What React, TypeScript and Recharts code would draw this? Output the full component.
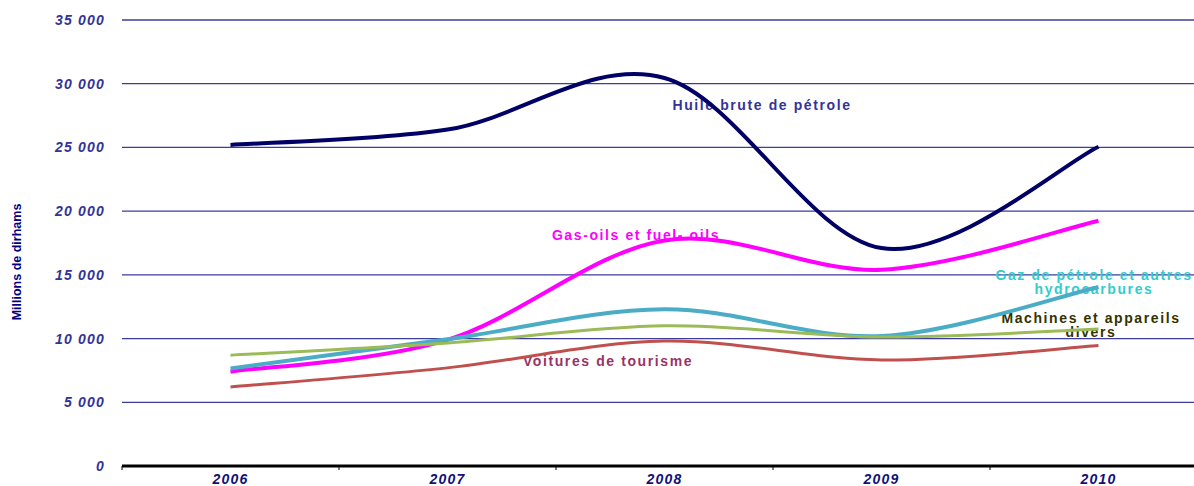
import React from "react";
import { LineChart, Line, XAxis, YAxis, CartesianGrid, Customized } from "recharts";

const years = ["2006", "2007", "2008", "2009", "2010"];
const huileBrute = [25200, 26400, 30450, 17100, 25050];
const gasOils = [7400, 9900, 17700, 15400, 19250];
const gazPetrole = [7650, 9950, 12300, 10200, 14050];
const machines = [8700, 9650, 11000, 10120, 10750];
const voitures = [6200, 7700, 9800, 8320, 9450];
const yTicks = [0, 5000, 10000, 15000, 20000, 25000, 30000, 35000];

const data = years.map((year, i) => ({
  x: i + 0.5,
  year,
  huile: huileBrute[i],
  gasoil: gasOils[i],
  gaz: gazPetrole[i],
  machines: machines[i],
  voitures: voitures[i],
}));

const CHART_W = 1210;
const CHART_H = 486;
const Y_AXIS_W = 122;
const MARGIN = { top: 20, right: 3, bottom: 0, left: 0 };
const BAND = (CHART_W - Y_AXIS_W - MARGIN.left - MARGIN.right) / years.length;

const FONT = "'Liberation Sans', Arial, sans-serif";

// Excel-like smoothed line (Catmull-Rom through the points)
const smooth = (context: any) => {
  let pts: number[][] = [];
  return {
    areaStart() {},
    areaEnd() {},
    lineStart() {
      pts = [];
    },
    point(x: number, y: number) {
      pts.push([+x, +y]);
    },
    lineEnd() {
      if (!pts.length) return;
      context.moveTo(pts[0][0], pts[0][1]);
      for (let i = 0; i < pts.length - 1; i++) {
        const p0 = pts[i - 1] || pts[i];
        const p1 = pts[i];
        const p2 = pts[i + 1];
        const p3 = pts[i + 2] || p2;
        context.bezierCurveTo(
          p1[0] + (p2[0] - p0[0]) / 6,
          p1[1] + (p2[1] - p0[1]) / 6,
          p2[0] - (p3[0] - p1[0]) / 6,
          p2[1] - (p3[1] - p1[1]) / 6,
          p2[0],
          p2[1]
        );
      }
    },
  };
};

const fmt = (v: number) => String(v).replace(/\B(?=(\d{3})+(?!\d))/g, " ");

const YearTick = ({ x, y, payload }: any) => {
  const idx = payload.value;
  if (idx >= years.length) return null;
  return (
    <text x={x + BAND / 2} y={y + 12} textAnchor="middle" fill="#10107a" fontFamily={FONT}
      fontSize={14} fontWeight="bold" fontStyle="italic" letterSpacing={1.2}>
      {years[idx]}
    </text>
  );
};

const labelStyle = { fontFamily: FONT, fontSize: 14, fontWeight: "bold" as const, letterSpacing: 1.6 };

const Annotations = () => (
  <g>
    <text x={18} y={262} transform="rotate(-90 18 262)" textAnchor="middle" dominantBaseline="middle"
      fill="#000080" fontFamily="'Liberation Sans Narrow', 'Arial Narrow', sans-serif" fontSize={12.5} fontWeight="bold">
      Millions de dirhams
    </text>
    <text x={762} y={110} textAnchor="middle" fill="#333399" {...labelStyle}>Huile brute de pétrole</text>
    <text x={636} y={240} textAnchor="middle" fill="#FF00FF" {...labelStyle}>Gas-oils et fuel- oils</text>
    <text x={1094} y={280} textAnchor="middle" fill="#33CCCC" {...labelStyle}>Gaz de pétrole et autres</text>
    <text x={1094} y={294} textAnchor="middle" fill="#33CCCC" {...labelStyle}>hydrocarbures</text>
    <text x={1091} y={323} textAnchor="middle" fill="#333300" {...labelStyle}>Machines et appareils</text>
    <text x={1091} y={337} textAnchor="middle" fill="#333300" {...labelStyle}>divers</text>
    <text x={608} y={366} textAnchor="middle" fill="#993366" {...labelStyle}>Voitures de tourisme</text>
  </g>
);

export default function App() {
  return (
    <div style={{ position: "fixed", left: 0, top: 0, width: 1194, height: 486, overflow: "hidden", background: "#fff" }}>
      <LineChart width={CHART_W} height={CHART_H} data={data} margin={MARGIN}>
        <CartesianGrid vertical={false} stroke="#3c3c9c" strokeWidth={1.3} />
        <XAxis
          dataKey="x"
          type="number"
          domain={[0, years.length]}
          ticks={[0, 1, 2, 3, 4, 5]}
          height={20}
          axisLine={{ stroke: "#000", strokeWidth: 3 }}
          tickLine={{ stroke: "#000", strokeWidth: 1 }}
          tickSize={4}
          tick={<YearTick />}
          interval={0}
        />
        <YAxis
          domain={[0, 35000]}
          ticks={yTicks}
          width={Y_AXIS_W}
          axisLine={false}
          tickLine={false}
          tickFormatter={fmt}
          tickMargin={11}
          tick={{ fill: "#333399", fontFamily: FONT, fontSize: 14, fontWeight: "bold", fontStyle: "italic", letterSpacing: 1.2 }}
        />
        <Line dataKey="huile" type={smooth as any} stroke="#000066" strokeWidth={4} dot={false} isAnimationActive={false} />
        <Line dataKey="gasoil" type={smooth as any} stroke="#FF00FF" strokeWidth={4} dot={false} isAnimationActive={false} />
        <Line dataKey="gaz" type={smooth as any} stroke="#4BACC6" strokeWidth={4} dot={false} isAnimationActive={false} />
        <Line dataKey="machines" type={smooth as any} stroke="#9BBB59" strokeWidth={3} dot={false} isAnimationActive={false} />
        <Line dataKey="voitures" type={smooth as any} stroke="#C0504D" strokeWidth={3} dot={false} isAnimationActive={false} />
        <Customized component={Annotations} />
      </LineChart>
    </div>
  );
}
